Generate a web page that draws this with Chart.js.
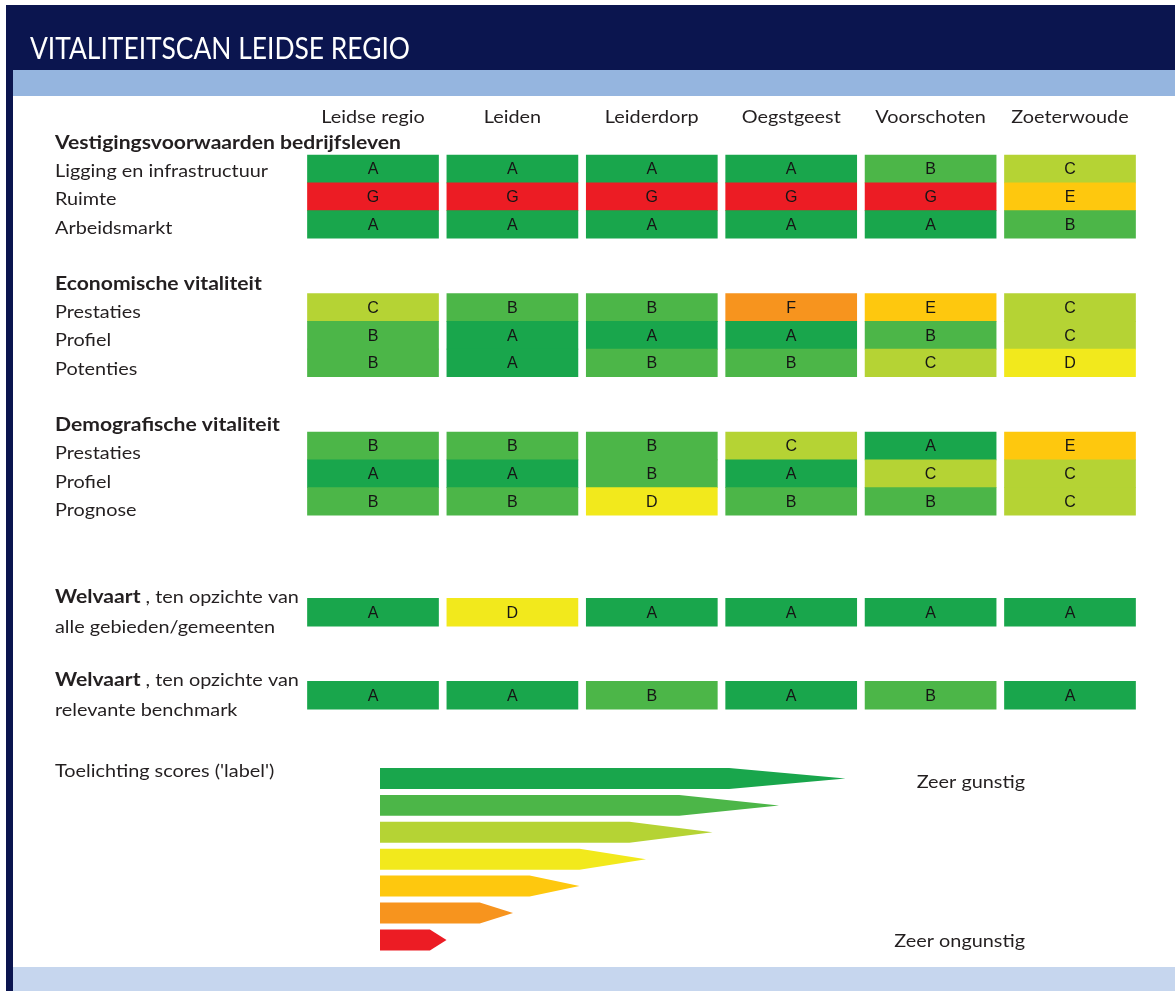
<!DOCTYPE html>
<html>
<head>
<meta charset="utf-8">
<script src="https://cdn.jsdelivr.net/npm/chart.js@4.4.1/dist/chart.umd.min.js"></script>
<style>
  html, body { margin: 0; padding: 0; background: #ffffff; }
  #wrap { position: relative; width: 1175px; height: 991px; overflow: hidden; }
  canvas { position: absolute; left: 0; top: 0; }
</style>
</head>
<body>
<div id="wrap"><canvas id="chart" width="1175" height="991"></canvas></div>
<script>
// ---------------- DATA ----------------
const TITLE = 'VITALITEITSCAN LEIDSE REGIO';
const municipalities = ['Leidse regio', 'Leiden', 'Leiderdorp', 'Oegstgeest', 'Voorschoten', 'Zoeterwoude'];
const groupTitles = ['Vestigingsvoorwaarden bedrijfsleven', 'Economische vitaliteit', 'Demografische vitaliteit'];
const indicatorLabels = ['Ligging en infrastructuur', 'Ruimte', 'Arbeidsmarkt',
                         'Prestaties', 'Profiel', 'Potenties',
                         'Prestaties', 'Profiel', 'Prognose'];
const welvaartLabels = [['Welvaart', ' , ten opzichte van', 'alle gebieden/gemeenten'],
                        ['Welvaart', ' , ten opzichte van', 'relevante benchmark']];

const ligging           = ['A', 'A', 'A', 'A', 'B', 'C'];
const ruimte            = ['G', 'G', 'G', 'G', 'G', 'E'];
const arbeidsmarkt      = ['A', 'A', 'A', 'A', 'A', 'B'];
const econPrestaties    = ['C', 'B', 'B', 'F', 'E', 'C'];
const econProfiel       = ['B', 'A', 'A', 'A', 'B', 'C'];
const econPotenties     = ['B', 'A', 'B', 'B', 'C', 'D'];
const demoPrestaties    = ['B', 'B', 'B', 'C', 'A', 'E'];
const demoProfiel       = ['A', 'A', 'B', 'A', 'C', 'C'];
const demoPrognose      = ['B', 'B', 'D', 'B', 'B', 'C'];
const welvaartAlle      = ['A', 'D', 'A', 'A', 'A', 'A'];
const welvaartBenchmark = ['A', 'A', 'B', 'A', 'B', 'A'];

const scoreLevels   = ['A', 'B', 'C', 'D', 'E', 'F', 'G'];
const legendLengths = [7, 6, 5, 4, 3, 2, 1];
const legendTitle   = "Toelichting scores ('label')";
const legendEnds    = ['Zeer gunstig', 'Zeer ongunstig'];

const scoreRows = [ligging, ruimte, arbeidsmarkt, econPrestaties, econProfiel, econPotenties,
                   demoPrestaties, demoProfiel, demoPrognose, welvaartAlle, welvaartBenchmark];

// ---------------- LAYOUT / STYLE ----------------
const ROW_SLOT = [2, 3, 4, 7, 8, 9, 12, 13, 14, 18, 21];
const GROUP_SLOT = [1, 6, 11];
const HALF = 0.47;
const COLORS = { A: '#19a64c', B: '#4cb648', C: '#b5d334', D: '#f2e91c', E: '#fec80e', F: '#f7941e', G: '#ec1c24' };
const NAVY = '#0b154f', BAND = '#95b5df', BOTTOM = '#c6d6ee', INK = '#231f20';
const FONT_REG = '18px Lato, "Open Sans", sans-serif';
const FONT_BOLD = 'bold 18px Lato, "Open Sans", sans-serif';
const FONT_TITLE = '30px Lato, "Open Sans", sans-serif';
const FONT_CELL = '16px "Liberation Sans", Arial, sans-serif';

const colorOf = ctx => (ctx.raw && ctx.raw.score) ? COLORS[ctx.raw.score] : '#cccccc';

const cellDatasets = municipalities.map((m, c) => ({
  type: 'bar', label: m, xAxisID: 'x', yAxisID: 'y',
  grouped: false, barPercentage: 1, categoryPercentage: 1, borderWidth: 0,
  data: scoreRows.map((row, i) => ({ x: [c - HALF, c + HALF], y: ROW_SLOT[i], score: row[c] })),
  backgroundColor: colorOf
}));
const ARROW_INDEX = cellDatasets.length;
const arrowDataset = {
  type: 'bar', label: legendTitle, xAxisID: 'x2', yAxisID: 'y2',
  grouped: false, barPercentage: 0.78, categoryPercentage: 1, borderWidth: 0,
  data: scoreLevels.map((s, i) => ({ x: [0, legendLengths[i]], y: i, score: s })),
  backgroundColor: colorOf
};

const noTicks = s => { s.ticks = []; };

function drawScaled(ctx, text, x, y, font, sx, align) {
  ctx.save();
  ctx.font = font;
  ctx.translate(x, y);
  ctx.scale(sx, 1);
  ctx.textAlign = align || 'left';
  ctx.fillText(text, 0, 0);
  ctx.restore();
}
function fitScale(ctx, font, text, target) {
  ctx.save(); ctx.font = font;
  const w = ctx.measureText(text).width;
  ctx.restore();
  return target / w;
}

const framePlugin = {
  id: 'frame',
  beforeDraw(chart) {
    const ctx = chart.ctx;
    ctx.save();
    ctx.fillStyle = '#ffffff'; ctx.fillRect(0, 0, chart.width, chart.height);
    ctx.fillStyle = NAVY; ctx.fillRect(6, 5, chart.width - 6, 65);
    ctx.fillRect(6, 70, 7, chart.height - 70);
    ctx.fillStyle = BAND; ctx.fillRect(13, 70, chart.width - 13, 26);
    ctx.fillStyle = BOTTOM; ctx.fillRect(13, 967, chart.width - 13, chart.height - 967);
    ctx.restore();
  }
};

const arrowPlugin = {
  id: 'arrows',
  beforeDatasetDraw(chart, args) {
    if (args.index !== ARROW_INDEX) return;
    const ctx = chart.ctx;
    ctx.save();
    args.meta.data.forEach((el, i) => {
      const p = el.getProps(['x', 'y', 'base', 'height'], true);
      const len = p.x - p.base, h = p.height / 2, neck = p.base + len * 0.75;
      ctx.fillStyle = COLORS[scoreLevels[i]];
      ctx.beginPath();
      ctx.moveTo(p.base, p.y - h);
      ctx.lineTo(neck, p.y - h);
      ctx.lineTo(p.x, p.y);
      ctx.lineTo(neck, p.y + h);
      ctx.lineTo(p.base, p.y + h);
      ctx.closePath();
      ctx.fill();
    });
    ctx.restore();
    return false;
  }
};

const textPlugin = {
  id: 'texts',
  afterDatasetsDraw(chart) {
    const ctx = chart.ctx;
    ctx.save();
    ctx.font = FONT_CELL; ctx.fillStyle = '#151515';
    ctx.textAlign = 'center'; ctx.textBaseline = 'middle';
    for (let d = 0; d < ARROW_INDEX; d++) {
      chart.getDatasetMeta(d).data.forEach((el, i) => {
        const p = el.getProps(['x', 'y', 'base'], true);
        ctx.fillText(chart.data.datasets[d].data[i].score, (p.x + p.base) / 2, p.y + 1);
      });
    }
    ctx.restore();
  },
  afterDraw(chart) {
    const ctx = chart.ctx;
    const xs = chart.scales.x, ys = chart.scales.y, yl = chart.scales.yl, y2 = chart.scales.y2, x2 = chart.scales.x2;
    const sxReg = fitScale(ctx, FONT_REG, 'Ligging en infrastructuur', 213);
    const sxBold = fitScale(ctx, FONT_BOLD, 'Vestigingsvoorwaarden bedrijfsleven', 346);
    const sxTitle = fitScale(ctx, FONT_TITLE, TITLE, 380);
    ctx.save();
    ctx.textBaseline = 'middle';
    // title
    ctx.fillStyle = '#ffffff';
    drawScaled(ctx, TITLE, 30, 49, FONT_TITLE, sxTitle, 'left');
    ctx.fillStyle = INK;
    // column headers
    municipalities.forEach((m, c) => {
      drawScaled(ctx, m, xs.getPixelForValue(c), yl.getPixelForValue(0) + 2, FONT_REG, sxReg, 'center');
    });
    // group titles
    groupTitles.forEach((g, i) => drawScaled(ctx, g, 55, yl.getPixelForValue(GROUP_SLOT[i]), FONT_BOLD, sxBold, 'left'));
    // indicator labels
    indicatorLabels.forEach((t, i) => drawScaled(ctx, t, 55, yl.getPixelForValue(ROW_SLOT[i]), FONT_REG, sxReg, 'left'));
    // welvaart labels
    welvaartLabels.forEach((parts, k) => {
      const yc = ys.getPixelForValue(ROW_SLOT[indicatorLabels.length + k]);
      ctx.save(); ctx.font = FONT_BOLD; const wb = ctx.measureText(parts[0]).width * sxBold; ctx.restore();
      drawScaled(ctx, parts[0], 55, yc - 15, FONT_BOLD, sxBold, 'left');
      drawScaled(ctx, parts[1], 55 + wb, yc - 15, FONT_REG, sxReg, 'left');
      drawScaled(ctx, parts[2], 55, yc + 15, FONT_REG, sxReg, 'left');
    });
    // legend
    drawScaled(ctx, legendTitle, 55, y2.getPixelForValue(0) - 7, FONT_REG, sxReg, 'left');
    drawScaled(ctx, legendEnds[0], 1025, y2.getPixelForValue(0) + 4, FONT_REG, sxReg, 'right');
    drawScaled(ctx, legendEnds[1], 1025, y2.getPixelForValue(scoreLevels.length - 1) + 1, FONT_REG, sxReg, 'right');
    ctx.restore();
  }
};

new Chart(document.getElementById('chart'), {
  type: 'bar',
  data: { datasets: [...cellDatasets, arrowDataset] },
  options: {
    indexAxis: 'y',
    responsive: false,
    animation: false,
    devicePixelRatio: 1,
    events: [],
    layout: { padding: { left: 24.5, right: 35.3, top: 99.75, bottom: 32.55 } },
    plugins: { legend: { display: false }, title: { display: false }, tooltip: { enabled: false } },
    scales: {
      x:  { type: 'linear', display: false, min: -2.5, max: 5.5, afterBuildTicks: noTicks },
      x2: { type: 'linear', display: false, min: -5.346, max: 11.424, afterBuildTicks: noTicks },
      y:  { type: 'linear', display: false, reverse: true, min: -0.5, max: 30.5, afterBuildTicks: noTicks },
      y2: { type: 'linear', display: false, reverse: true, min: -25.23, max: 6.69, afterBuildTicks: noTicks },
      yl: { type: 'linear', display: false, reverse: true, axis: 'y', min: -0.532, max: 29.886, afterBuildTicks: noTicks }
    }
  },
  plugins: [framePlugin, arrowPlugin, textPlugin]
});
</script>
</body>
</html>
